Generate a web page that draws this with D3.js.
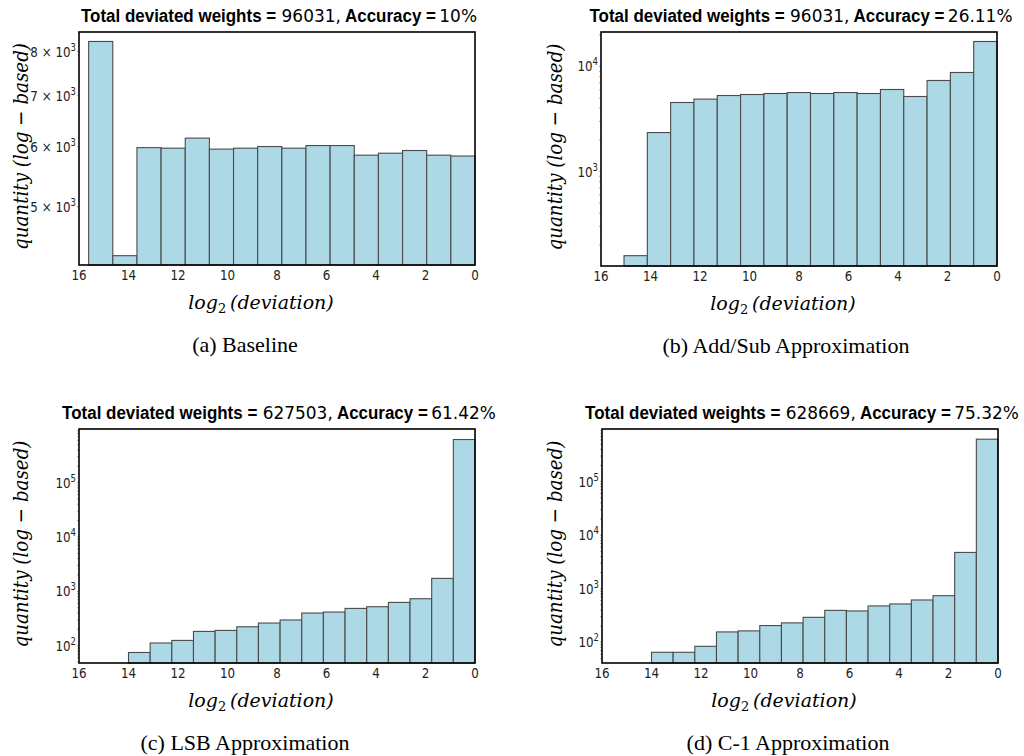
<!DOCTYPE html>
<html>
<head>
<meta charset="utf-8">
<script src="https://cdn.jsdelivr.net/npm/d3@7"></script>
<style>
  body { margin: 0; background: #fff; }
  svg  { display: block; }
</style>
</head>
<body>
<svg id="fig" width="1024" height="756"></svg>
<script>
/* four log-scale histograms of weight deviation, 2x2 grid */

// ---- data ----
const captions   = ["(a) Baseline", "(b) Add/Sub Approximation",
                    "(c) LSB Approximation", "(d) C-1 Approximation"];
const totals     = ["96031", "96031", "627503", "628669"];
const accuracies = ["10%", "26.11%", "61.42%", "75.32%"];

// upper edge of the histogram range (bins run from here down to 0)
const binMax = [15.61, 15.07, 14, 14];

// counts per bin, left (large deviation) to right (deviation 0)
const baselineCounts = [8250, 4310, 5980, 5970, 6155, 5953, 5970, 6000,
                        5970, 6018, 6018, 5845, 5880, 5928, 5845, 5830];
const addSubCounts   = [158, 2350, 4540, 4890, 5290, 5410, 5530, 5650,
                        5530, 5650, 5530, 6040, 5180, 7360, 8770, 17300];
const lsbCounts      = [75, 112, 125, 183, 191, 223, 261, 297,
                        399, 416, 485, 521, 625, 731, 1730, 621000];
const c1Counts       = [65, 65, 84, 156, 163, 205, 230, 292,
                        394, 384, 477, 519, 616, 741, 4760, 619500];

const yLimits = [[4190, 8490], [126, 21300], [48, 970000], [41, 960000]];
const yTicks  = [[5000, 6000, 7000, 8000], [1000, 10000],
                 [100, 1000, 10000, 100000], [100, 1000, 10000, 100000]];
const xTicks  = [16, 14, 12, 10, 8, 6, 4, 2, 0];

// ---- layout ----
const SX = 0.85;   // tick labels in the source look squeezed sideways
const panels = [
  { counts: baselineCounts, left: 79,  right: 475, top: 32,  bottom: 265, ylabX: 21,  capX: 245 },
  { counts: addSubCounts,   left: 601, right: 997, top: 32,  bottom: 266, ylabX: 555, capX: 786 },
  { counts: lsbCounts,      left: 79,  right: 475, top: 429, bottom: 663, ylabX: 21,  capX: 245 },
  { counts: c1Counts,       left: 602, right: 998, top: 429, bottom: 663, ylabX: 555, capX: 788 }
];

const svg = d3.select("#fig");

function squeeze(x, y, s = SX) { return `translate(${x},${y}) scale(${s},1)`; }

function tickText(sel, v) {
  const e = Math.floor(Math.log10(v) + 1e-9);
  const m = Math.round(v / Math.pow(10, e));
  sel.append("tspan").text(m === 1 ? "10" : `${m} × 10`);
  sel.append("tspan").attr("font-size", 10).attr("dy", -6).text(e);
}

panels.forEach((p, i) => {
  const g = svg.append("g");

  const x = d3.scaleLinear().domain([16, 0]).range([p.left, p.right]);
  const y = d3.scaleLog().domain(yLimits[i]).range([p.bottom, p.top]);

  const w = binMax[i] / p.counts.length;
  const bins = p.counts.map((c, k) => ({
    x0: binMax[i] - k * w, x1: binMax[i] - (k + 1) * w, c
  }));

  // bars
  g.selectAll("rect.bar").data(bins).enter().append("rect")
    .attr("class", "bar")
    .attr("x", d => x(d.x0))
    .attr("width", d => x(d.x1) - x(d.x0))
    .attr("y", d => y(d.c))
    .attr("height", d => p.bottom - y(d.c))
    .attr("fill", "#add8e6")
    .attr("stroke", "#4a4a4a")
    .attr("stroke-width", 1.1);

  // minor ticks on the log axis
  const [lo, hi] = yLimits[i];
  const minor = [];
  for (let e = Math.floor(Math.log10(lo)); e <= Math.ceil(Math.log10(hi)); e++)
    for (let m = 1; m < 10; m++) {
      const v = m * Math.pow(10, e);
      if (v >= lo && v <= hi) minor.push(v);
    }
  g.selectAll("line.mt").data(minor).enter().append("line")
    .attr("x1", p.left - 2).attr("x2", p.left)
    .attr("y1", d => y(d)).attr("y2", d => y(d))
    .attr("stroke", "#aaa").attr("stroke-width", 1);

  // frame
  g.append("rect")
    .attr("x", p.left).attr("y", p.top)
    .attr("width", p.right - p.left).attr("height", p.bottom - p.top)
    .attr("fill", "none").attr("stroke", "#000").attr("stroke-width", 1.6);

  // y tick labels
  yTicks[i].forEach(v => {
    const t = g.append("text")
      .attr("transform", squeeze(p.left - 3, y(v) + 5))
      .attr("text-anchor", "end")
      .attr("font-family", "DejaVu Sans")
      .attr("font-size", 14)
      .attr("fill", "#222");
    tickText(t, v);
  });

  // x tick labels
  xTicks.forEach(v => {
    g.append("text")
      .attr("transform", squeeze(x(v), p.bottom + 15))
      .attr("text-anchor", "middle")
      .attr("font-family", "DejaVu Sans")
      .attr("font-size", 14)
      .attr("fill", "#222")
      .text(v);
  });

  // title
  const cx = (p.left + p.right) / 2;
  const title = g.append("text")
    .attr("transform", squeeze(cx + 2, p.top - 10, 0.97))
    .attr("text-anchor", "middle")
    .attr("font-size", 17.5)
    .attr("fill", "#000");
  title.append("tspan").attr("font-family", "Liberation Sans").attr("font-weight", "bold")
    .text("Total deviated weights =");
  title.append("tspan").attr("font-family", "DejaVu Sans").text(` ${totals[i]},`);
  title.append("tspan").attr("font-family", "Liberation Sans").attr("font-weight", "bold")
    .text(" Accuracy =");
  title.append("tspan").attr("font-family", "DejaVu Sans").text(`\u2009${accuracies[i]}`);

  // x label
  const xl = g.append("text")
    .attr("transform", squeeze(cx - 16, p.bottom + 44, 1))
    .attr("text-anchor", "middle")
    .attr("font-family", "DejaVu Serif")
    .attr("font-style", "italic")
    .attr("font-size", 19)
    .attr("fill", "#000");
  xl.append("tspan").text("log");
  xl.append("tspan").attr("font-style", "normal").attr("font-size", 13).attr("dy", 4).text("2");
  xl.append("tspan").attr("dy", -4).text("\u2009(deviation)");

  // y label
  const midY = (p.top + p.bottom) / 2 - 2;
  g.append("text")
    .attr("transform", `translate(${p.ylabX},${midY}) rotate(-90)`)
    .attr("text-anchor", "middle")
    .attr("dominant-baseline", "central")
    .attr("font-family", "DejaVu Serif")
    .attr("font-style", "italic")
    .attr("font-size", 21)
    .attr("fill", "#000")
    .attr("textLength", 207)
    .attr("lengthAdjust", "spacingAndGlyphs")
    .text("quantity (log \u2212 based)");

  // caption
  g.append("text")
    .attr("x", p.capX)
    .attr("y", p.bottom + 87)
    .attr("text-anchor", "middle")
    .attr("font-family", "Liberation Serif")
    .attr("font-size", 22)
    .attr("fill", "#000")
    .text(captions[i]);
});
</script>
</body>
</html>
